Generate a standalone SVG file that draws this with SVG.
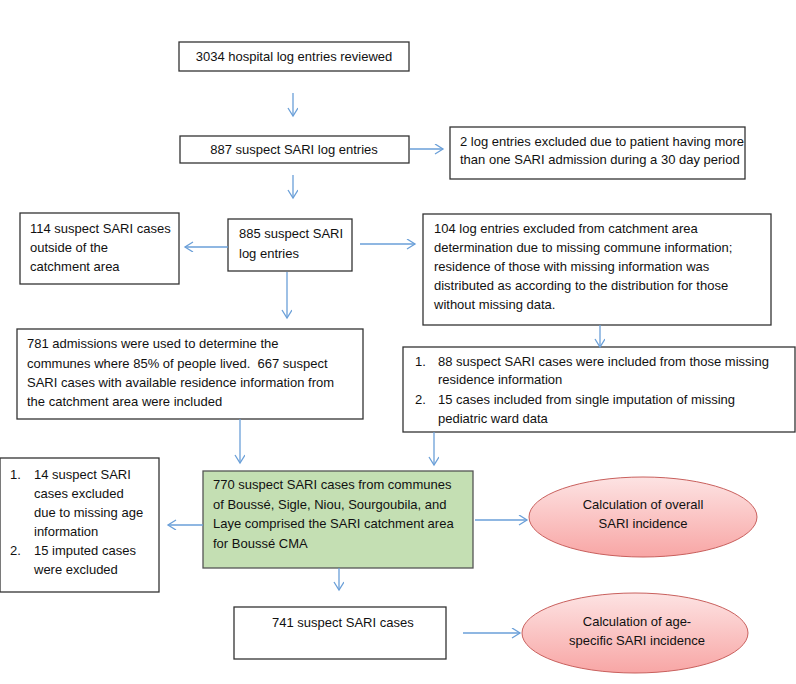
<svg xmlns="http://www.w3.org/2000/svg" width="796" height="684" viewBox="0 0 796 684">
<style>
text{font-family:"Liberation Sans",Arial,sans-serif;font-size:13px;fill:#111;white-space:pre}
.box{fill:#fff;stroke:#333;stroke-width:1.3}
.green{fill:#c4dfb3;stroke:#555;stroke-width:1.3}
.ell{fill:url(#pink);stroke:#c9605d;stroke-width:1}
.c{stroke:#6a9fd8;stroke-width:1.3;fill:none;marker-end:url(#ah)}
.m{text-anchor:middle}
</style>
<defs>
<marker id="ah" markerUnits="userSpaceOnUse" markerWidth="12" markerHeight="12" refX="9" refY="5" orient="auto">
<path d="M1,0 L9,5 L1,10" fill="none" stroke="#6a9fd8" stroke-width="1.3"/>
</marker>
<linearGradient id="pink" x1="0" y1="0" x2="0" y2="1">
<stop offset="0" stop-color="#fde3e3"/>
<stop offset="1" stop-color="#f8a6a5"/>
</linearGradient>
</defs>
<rect width="796" height="684" fill="#fff"/>
<g id="n1"><rect class="box" x="179" y="42" width="230" height="29"/><text x="294" y="61" class="m">3034 hospital log entries reviewed</text></g>
<g id="n2"><rect class="box" x="180" y="136" width="229" height="27"/><text x="294" y="154" class="m">887 suspect SARI log entries</text></g>
<g id="n3"><rect class="box" x="450" y="127" width="295" height="52"/><text x="460" y="146" font-size="12.6">2 log entries excluded due to patient having more</text><text x="460" y="164" font-size="12.6">than one SARI admission during a 30 day period</text></g>
<g id="n4"><rect class="box" x="228" y="219" width="124" height="52"/><text x="239" y="238">885 suspect SARI</text><text x="239" y="258">log entries</text></g>
<g id="n5"><rect class="box" x="20" y="213" width="159" height="71"/><text x="30" y="233">114 suspect SARI cases</text><text x="30" y="252">outside of the</text><text x="30" y="271">catchment area</text></g>
<g id="n6"><rect class="box" x="423" y="214" width="348" height="111"/><text x="434" y="233">104 log entries excluded from catchment area</text><text x="434" y="252">determination due to missing commune information;</text><text x="434" y="271">residence of those with missing information was</text><text x="434" y="290">distributed as according to the distribution for those</text><text x="434" y="309">without missing data.</text></g>
<g id="n7"><rect class="box" x="17" y="329" width="346" height="90"/><text x="27" y="348">781 admissions were used to determine the</text><text x="27" y="368">communes where 85% of people lived.  667 suspect</text><text x="27" y="387">SARI cases with available residence information from</text><text x="27" y="406">the catchment area were included</text></g>
<g id="n8"><rect class="box" x="403" y="347" width="392" height="85"/><text x="415" y="366">1.</text><text x="438" y="366">88 suspect SARI cases were included from those missing</text><text x="438" y="384">residence information</text><text x="415" y="404">2.</text><text x="438" y="404">15 cases included from single imputation of missing</text><text x="438" y="423">pediatric ward data</text></g>
<g id="n9"><rect class="green" x="203" y="471" width="270" height="97"/><text x="213" y="489">770 suspect SARI cases from communes</text><text x="213" y="509">of Boussé, Sigle, Niou, Sourgoubila, and</text><text x="213" y="528">Laye comprised the SARI catchment area</text><text x="213" y="548">for Boussé CMA</text></g>
<g id="n10"><rect class="box" x="0" y="458" width="159" height="134"/><text x="10" y="479">1.</text><text x="34" y="479">14 suspect SARI</text><text x="34" y="498">cases excluded</text><text x="34" y="517">due to missing age</text><text x="34" y="536">information</text><text x="10" y="555">2.</text><text x="34" y="555">15 imputed cases</text><text x="34" y="574">were excluded</text></g>
<g id="n11"><ellipse class="ell" cx="643" cy="517" rx="114" ry="40"/><text x="643" y="509" class="m">Calculation of overall</text><text x="643" y="528" class="m">SARI incidence</text></g>
<g id="n12"><rect class="box" x="234" y="607" width="212" height="52"/><text x="272" y="627">741 suspect SARI cases</text></g>
<g id="n13"><ellipse class="ell" cx="635" cy="633" rx="113" ry="40"/><text x="637" y="626" class="m">Calculation of age-</text><text x="637" y="645" class="m">specific SARI incidence</text></g>
<g id="connectors">
<line class="c" x1="293" y1="93" x2="293" y2="116"/>
<line class="c" x1="410" y1="149" x2="443" y2="149"/>
<line class="c" x1="293" y1="175" x2="293" y2="198"/>
<line class="c" x1="228" y1="247" x2="185" y2="247"/>
<line class="c" x1="360" y1="244" x2="415" y2="244"/>
<line class="c" x1="287" y1="272" x2="287" y2="318"/>
<line class="c" x1="600" y1="325" x2="600" y2="347"/>
<line class="c" x1="240" y1="419" x2="240" y2="463"/>
<line class="c" x1="434" y1="432" x2="434" y2="465"/>
<line class="c" x1="203" y1="525" x2="168" y2="525"/>
<line class="c" x1="475" y1="520" x2="527" y2="520"/>
<line class="c" x1="339" y1="568" x2="339" y2="590"/>
<line class="c" x1="463" y1="633" x2="520" y2="633"/>
</g>
</svg>
